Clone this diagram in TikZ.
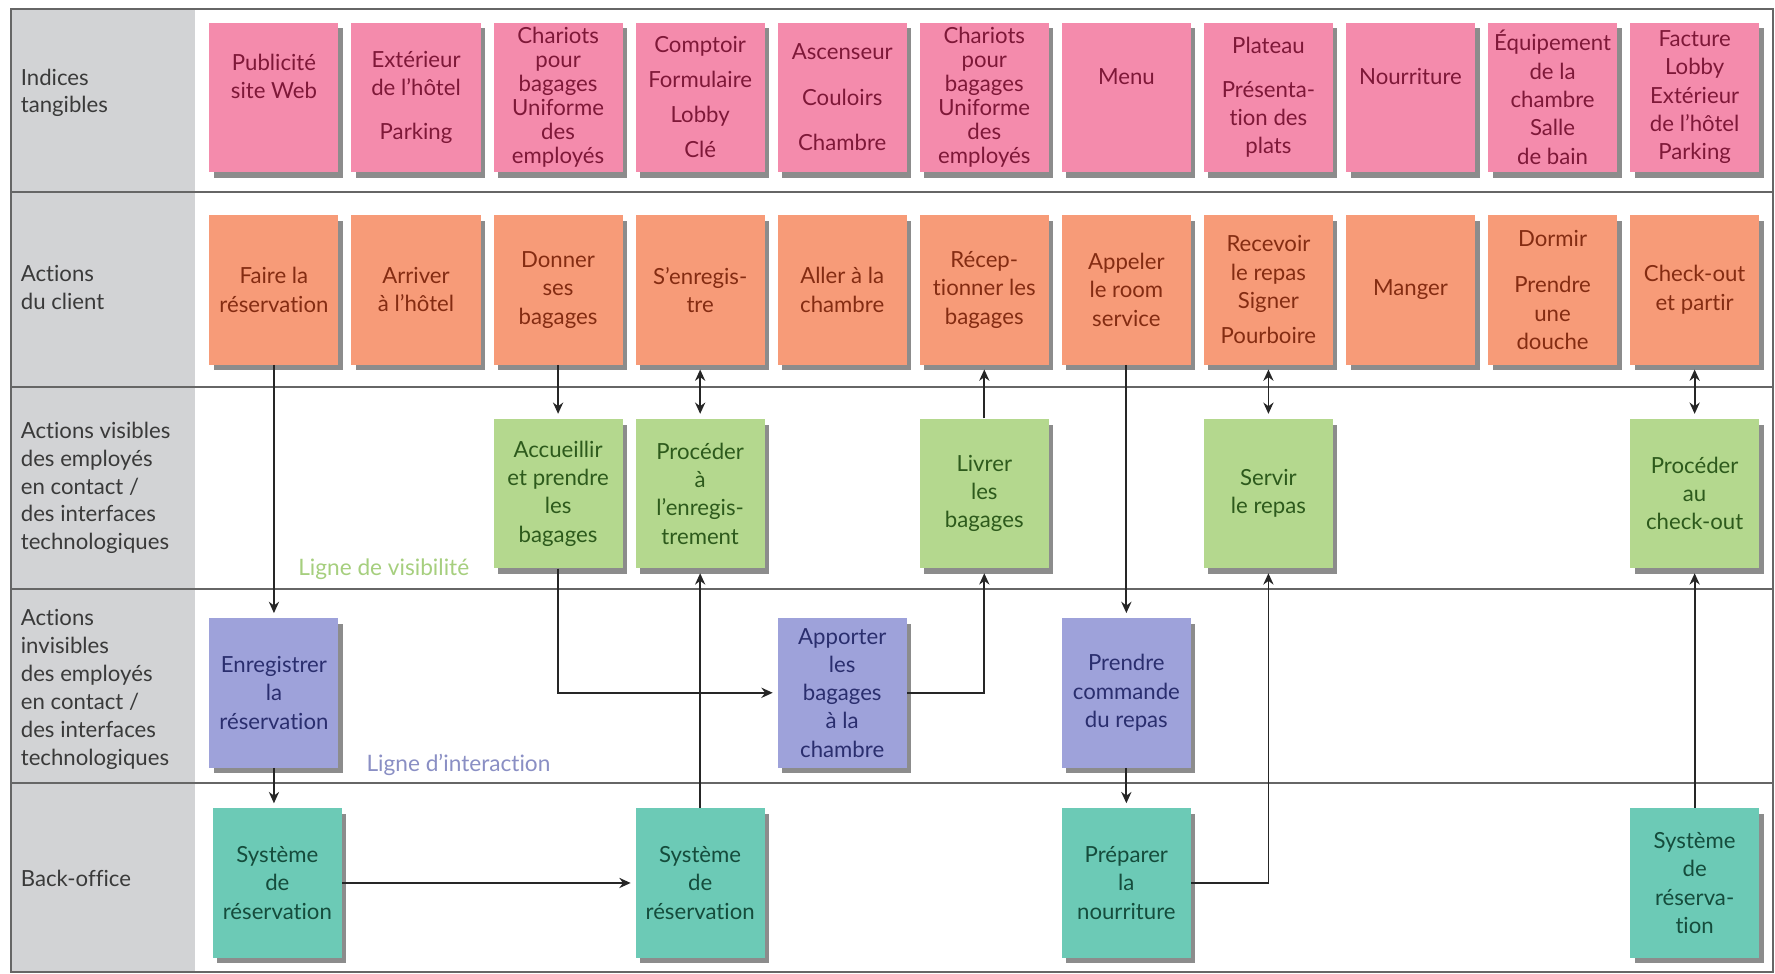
\documentclass[tikz,border=0pt]{standalone}
\usepackage{fontspec}
\setmainfont{Lato}[Ligatures={TeX,NoCommon}]
\usetikzlibrary{shadows,arrows.meta}
\definecolor{cPink}{HTML}{F48BAC}
\definecolor{cOrange}{HTML}{F79B78}
\definecolor{cGreen}{HTML}{B4D88E}
\definecolor{cPurple}{HTML}{9EA2DA}
\definecolor{cTeal}{HTML}{6CCAB6}
\definecolor{cGray}{HTML}{D2D3D5}
\definecolor{tPink}{HTML}{7E1838}
\definecolor{tOrange}{HTML}{842C12}
\definecolor{tGreen}{HTML}{2D5A1C}
\definecolor{tPurple}{HTML}{2A2E6E}
\definecolor{tTeal}{HTML}{154C3C}
\definecolor{tLabel}{HTML}{3A3A3A}
\definecolor{tVis}{HTML}{A6CF7E}
\definecolor{tInt}{HTML}{8A8FC4}
\begin{document}
\begin{tikzpicture}[x=0.5pt,y=-0.5pt,
  box/.style={rectangle, minimum width=57pt, minimum height=66pt, inner sep=0pt, align=center,
    font=\fontsize{9.8}{12.5}\selectfont,
    drop shadow={shadow xshift=2pt,shadow yshift=-2.5pt,fill=black,opacity=.45}},
  tang/.style={box, fill=cPink, text=tPink},
  client/.style={box, fill=cOrange, text=tOrange},
  visi/.style={box, fill=cGreen, text=tGreen},
  invis/.style={box, fill=cPurple, text=tPurple},
  back/.style={box, fill=cTeal, text=tTeal},
  tight/.style={font=\fontsize{9.8}{10.6}\selectfont},
  arr/.style={draw=black!85, line width=0.8pt, -{Stealth[length=5pt,width=4.5pt]}, shorten >=2pt},
  dbl/.style={draw=black!85, line width=0.8pt, {Stealth[length=5pt,width=4.5pt]}-{Stealth[length=5pt,width=4.5pt]}, shorten >=2pt, shorten <=2pt},
  lane/.style={draw=black!60, line width=0.9pt},
  lanelabel/.style={anchor=west, align=left, inner sep=0pt, font=\fontsize{9.8}{12.3}\selectfont, text=tLabel},
  linelabel/.style={inner sep=0pt, font=\fontsize{10}{12}\selectfont}
]
\useasboundingbox (0,0) rectangle (1568,860);
\fill[white] (0,0) rectangle (1568,860);
% gray label column
\fill[cGray] (10,8) rectangle (172,859);
% lane separators and frame
\draw[lane] (10,170) -- (1566,170);
\draw[lane] (10,342) -- (1566,342);
\draw[lane] (10,520) -- (1566,520);
\draw[lane] (10,692) -- (1566,692);
\draw[lane] (10,8) rectangle (1566,859);

% lane labels
\node[lanelabel] (l1) at (18,82) {Indices\\tangibles};
\node[lanelabel] (l2) at (18,254) {Actions\\du client};
\node[lanelabel] (l3) at (18,431) {Actions visibles\\des employés\\en contact /\\des interfaces\\technologiques};
\node[lanelabel] (l4) at (18,609) {Actions\\invisibles\\des employés\\en contact /\\des interfaces\\technologiques};
\node[lanelabel] (l5) at (18,776) {Back-office};

% line labels
\node[linelabel, text=tVis] (vis) at (339,503) {Ligne de visibilité};
\node[linelabel, text=tInt] (int) at (405,676) {Ligne d'interaction};

% tangible evidence
\node[tang] (p1) at (242,86) {Publicité\\site Web\\[6pt]};
\node[tang] (p2) at (367.5,86) {Extérieur\\de l'hôtel\\[7pt]Parking};
\node[tang, tight] (p3) at (493,86) {Chariots\\pour\\bagages\\Uniforme\\des\\employés};
\node[tang] (p4) at (618.5,86) {Comptoir\\[3pt]Formulaire\\[3pt]Lobby\\[3pt]Clé};
\node[tang] (p5) at (744,86) {Ascenseur\\[7.5pt]Couloirs\\[7.5pt]Chambre};
\node[tang, tight] (p6) at (869.5,86) {Chariots\\pour\\bagages\\Uniforme\\des\\employés};
\node[tang] (p7) at (995,86) {Menu\\[6pt]};
\node[tang] (p8) at (1120.5,86) {Plateau\\[7pt]Présenta-\\tion des\\plats};
\node[tang] (p9) at (1246,86) {Nourriture\\[6pt]};
\node[tang] (p10) at (1371.5,86) {Équipement\\de la\\chambre\\Salle\\de bain};
\node[tang] (p11) at (1497,86) {Facture\\Lobby\\Extérieur\\de l'hôtel\\Parking};

% customer actions
\node[client] (o1) at (242,256) {Faire la\\réservation};
\node[client] (o2) at (367.5,256) {Arriver\\à l'hôtel};
\node[client] (o3) at (493,256) {Donner\\ses\\bagages};
\node[client] (o4) at (618.5,256) {S'enregis-\\tre};
\node[client] (o5) at (744,256) {Aller à la\\chambre};
\node[client] (o6) at (869.5,256) {Récep-\\tionner les\\bagages};
\node[client] (o7) at (995,256) {Appeler\\le room\\service};
\node[client] (o8) at (1120.5,256) {Recevoir\\le repas\\Signer\\[3pt]Pourboire};
\node[client] (o9) at (1246,256) {Manger};
\node[client] (o10) at (1371.5,256) {Dormir\\[8pt]Prendre\\une\\douche};
\node[client] (o11) at (1497,256) {Check-out\\et partir};

% visible employee actions
\node[visi] (g3) at (493,436) {Accueillir\\et prendre\\les\\bagages};
\node[visi] (g4) at (618.5,436) {Procéder\\à\\l'enregis-\\trement};
\node[visi] (g6) at (869.5,436) {Livrer\\les\\bagages};
\node[visi] (g8) at (1120.5,436) {Servir\\le repas};
\node[visi] (g11) at (1497,436) {Procéder\\au\\check-out};

% invisible employee actions
\node[invis] (u1) at (242,612) {Enregistrer\\la\\réservation};
\node[invis] (u5) at (744,612) {Apporter\\les\\bagages\\à la\\chambre};
\node[invis] (u7) at (995,612) {Prendre\\commande\\du repas};

% back office
\node[back] (t1) at (245,780) {Système\\de\\réservation};
\node[back] (t4) at (618.5,780) {Système\\de\\réservation};
\node[back] (t7) at (995,780) {Préparer\\la\\nourriture};
\node[back] (t11) at (1497,780) {Système\\de\\réserva-\\tion};

% connectors
\draw[arr] (o1.south) -- (u1.north);
\draw[arr] (u1.south) -- (u1.south |- t1.north);
\draw[arr] (t1.east) -- (t4.west);
\draw[arr] (o3.south) -- (g3.north);
\draw[dbl] (o4.south) -- (g4.north);
\draw[arr] (t4.north) -- (g4.south);
\draw[arr] (g3.south) |- (u5.west);
\draw[arr] (u5.east) -| (g6.south);
\draw[arr] (g6.north) -- (o6.south);
\draw[arr] (o7.south) -- (u7.north);
\draw[arr] (u7.south) -- (t7.north);
\draw[arr] (t7.east) -| (g8.south);
\draw[dbl] (o8.south) -- (g8.north);
\draw[dbl] (o11.south) -- (g11.north);
\draw[arr] (t11.north) -- (g11.south);
\end{tikzpicture}
\end{document}
